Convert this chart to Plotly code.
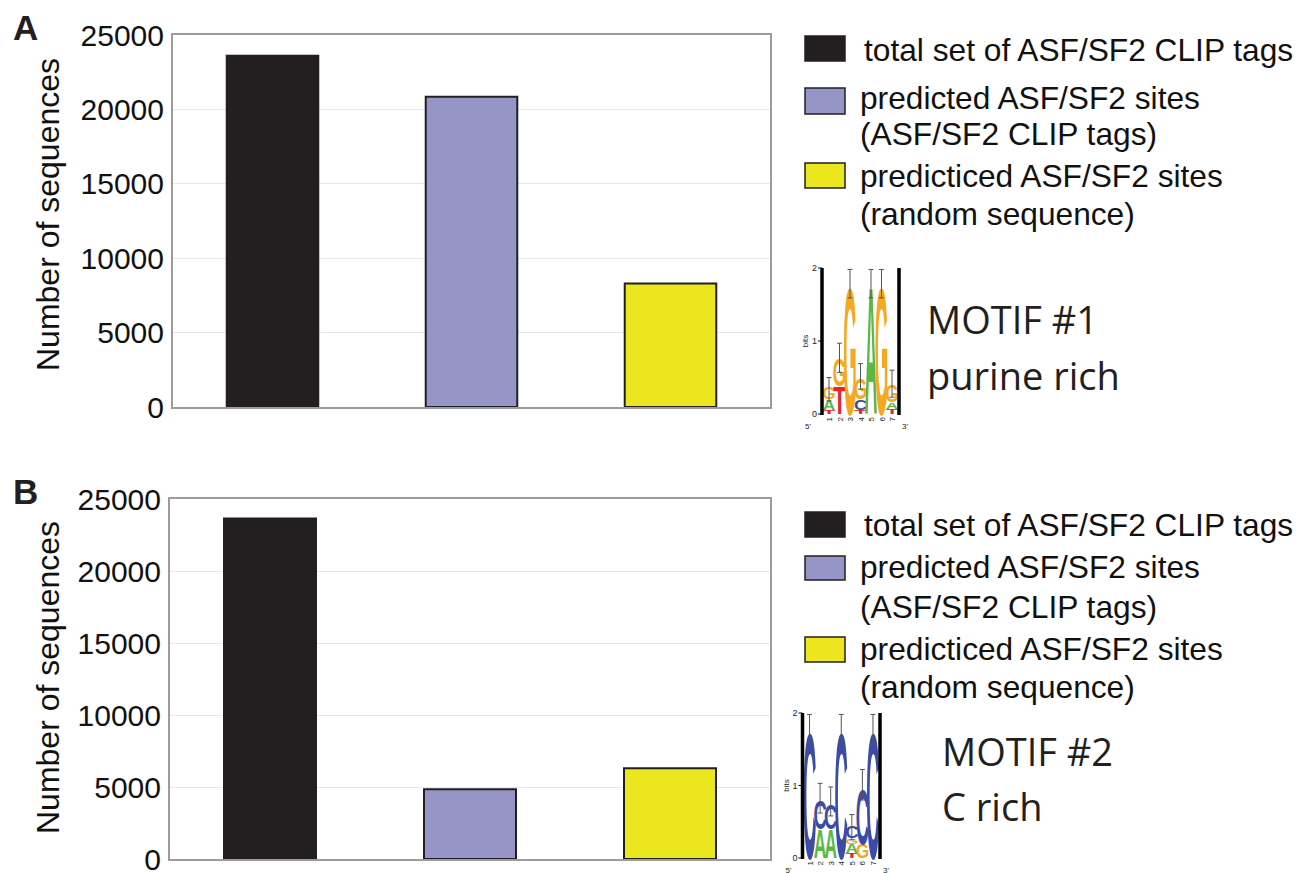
import base64
import plotly.graph_objects as go

W, H = 1304, 873
OFF = 8  # page body margin compensation

# ---------------- data ----------------
categories = ["total set of ASF/SF2 CLIP tags",
              "predicted ASF/SF2 sites (ASF/SF2 CLIP tags)",
              "predicticed ASF/SF2 sites (random sequence)"]
values_A = [23600, 20850, 8300]
values_B = [23650, 4850, 6300]
bar_colors = ["#231f20", "#9595c8", "#ebe61e"]
y_ticks = [0, 5000, 10000, 15000, 20000, 25000]
y_tick_labels = ["0", "5000", "10000", "15000", "20000", "25000"]

legend_lines = [["total set of ASF/SF2 CLIP tags"],
                ["predicted ASF/SF2 sites", "(ASF/SF2 CLIP tags)"],
                ["predicticed ASF/SF2 sites", "(random sequence)"]]

# sequence logos: (letter, bottom bits, top bits) per position, and error bars
motif1_stacks = [
    [("T", 0, 0.05), ("A", 0.05, 0.2), ("G", 0.2, 0.37)],
    [("T", 0, 0.39), ("G", 0.39, 0.78)],
    [("G", 0, 1.77)],
    [("T", 0, 0.05), ("C", 0.05, 0.2), ("G", 0.2, 0.5)],
    [("A", 0, 1.77)],
    [("G", 0, 1.77)],
    [("T", 0, 0.07), ("A", 0.07, 0.16), ("G", 0.16, 0.39)],
]
motif1_err = [(0.18, 0.5), (0.57, 0.97), (1.59, 1.98), (0.34, 0.69),
              (1.59, 1.98), (1.59, 1.98), (0.23, 0.6)]
motif2_stacks = [
    [("C", 0, 1.77)],
    [("A", 0, 0.4), ("C", 0.4, 0.8)],
    [("A", 0, 0.4), ("C", 0.4, 0.75)],
    [("C", 0, 1.77)],
    [("T", 0, 0.07), ("A", 0.07, 0.2), ("G", 0.2, 0.28), ("C", 0.28, 0.44)],
    [("G", 0, 0.2), ("C", 0.2, 0.97)],
    [("C", 0, 1.77)],
]
motif2_err = [(1.59, 1.98), (0.62, 1.03), (0.58, 0.98), (1.59, 1.98),
              (0.25, 0.6), (0.8, 1.22), (1.59, 1.98)]
motif_titles = [("MOTIF #1", "purine rich"), ("MOTIF #2", "C rich")]
letter_colors = {"A": "#5cb846", "C": "#3c4ca6", "G": "#f7a823", "T": "#e5232a"}


def px(x):
    return (x - OFF) / W


def py(y):
    return 1 - (y - OFF) / H


# ---------------- logo svg ----------------
INK = {"A": 70.0, "C": 66.0, "G": 70.0, "T": 58.0}


def logo_svg(vb, y0, ppb, xl, xr, stacks, errs):
    n = len(stacks)
    colw = (xr - xl - 3.5) / n
    x0 = xl + 1.75
    out = []
    vx, vy, vw, vh = vb
    out.append(f'<svg xmlns="http://www.w3.org/2000/svg" width="{vw}" height="{vh}" '
               f'viewBox="{vx} {vy} {vw} {vh}">')
    for i, col in enumerate(stacks):
        cx = x0 + colw * (i + 0.5)
        for (L, b, t) in col:
            yb = y0 - b * ppb
            h = (t - b) * ppb
            sy = h / 72.0
            sx = colw * 1.15 / INK[L]
            out.append(f'<text font-family="Liberation Sans, Arial, sans-serif" font-weight="bold" '
                       f'font-size="100" text-anchor="middle" fill="{letter_colors[L]}" '
                       f'transform="translate({cx:.2f},{yb:.2f}) scale({sx:.4f},{sy:.4f})">{L}</text>')
    for i, (lo, hi) in enumerate(errs):
        cx = x0 + colw * (i + 0.5)
        ylo, yhi = y0 - lo * ppb, y0 - hi * ppb
        out.append(f'<g stroke="#555" stroke-width="1" fill="none">'
                   f'<line x1="{cx:.2f}" y1="{ylo:.2f}" x2="{cx:.2f}" y2="{yhi:.2f}"/>'
                   f'<line x1="{cx-2.5:.2f}" y1="{ylo:.2f}" x2="{cx+2.5:.2f}" y2="{ylo:.2f}"/>'
                   f'<line x1="{cx-2.5:.2f}" y1="{yhi:.2f}" x2="{cx+2.5:.2f}" y2="{yhi:.2f}"/></g>')
    ytop = y0 - 2 * ppb
    out.append(f'<rect x="{xl-1.75}" y="{ytop}" width="3.5" height="{2*ppb+1}" fill="#000"/>')
    out.append(f'<rect x="{xr-1.75}" y="{ytop}" width="3.5" height="{2*ppb+1}" fill="#000"/>')
    for k in range(3):
        yy = y0 - k * ppb
        out.append(f'<line x1="{xl-4}" y1="{yy}" x2="{xl}" y2="{yy}" stroke="#000" stroke-width="1"/>')
        out.append(f'<text x="{xl-5}" y="{yy+3}" font-family="Liberation Sans, Arial" font-size="9" '
                   f'text-anchor="end" fill="#222">{k}</text>')
    out.append(f'<text font-family="Liberation Sans, Arial" font-size="8" text-anchor="middle" fill="#222" '
               f'transform="translate({xl-14},{y0-ppb}) rotate(-90)">bits</text>')
    for i in range(n):
        cx = x0 + colw * (i + 0.5)
        out.append(f'<text font-family="Liberation Sans, Arial" font-size="8" text-anchor="end" fill="#222" '
                   f'transform="translate({cx+3},{y0+3}) rotate(-90)">{i+1}</text>')
    out.append(f'<text x="{xl-17}" y="{y0+15}" font-family="Liberation Sans, Arial" font-size="8" fill="#222">5\'</text>')
    out.append(f'<text x="{xr+3}" y="{y0+15}" font-family="Liberation Sans, Arial" font-size="8" fill="#222">3\'</text>')
    out.append('</svg>')
    return "data:image/svg+xml;base64," + base64.b64encode("".join(out).encode()).decode()


# ---------------- figure ----------------
fig = go.Figure()

panels = [
    dict(vals=values_A, xd=[173, 770], yd=[35, 407], xa="x", ya="y", label="A", lab_xy=(25, 27),
         leg_sq=[(36, 61), (88, 114), (163, 188)], leg_txt=[[50], [98, 134], [175.5, 213.5]],
         ytitle_y=215, motif=(motif1_stacks, motif1_err), logo=dict(vb=(790, 258, 125, 180), y0=414, ppb=73, xl=822, xr=899),
         mt=(927, 320, 376)),
    dict(vals=values_B, xd=[170, 770], yd=[499, 859], xa="x2", ya="y2", label="B", lab_xy=(25, 491),
         leg_sq=[(512, 537), (556, 580), (637, 662)], leg_txt=[[525], [566.5, 607], [649, 686.5]],
         ytitle_y=678, motif=(motif2_stacks, motif2_err), logo=dict(vb=(770, 702, 125, 180), y0=858, ppb=72.5, xl=802.5, xr=880),
         mt=(942, 752, 807)),
]

shapes = []
annotations = []
images = []
for pi, p in enumerate(panels):
    fig.add_trace(go.Bar(x=categories, y=p["vals"], xaxis=p["xa"], yaxis=p["ya"],
                         marker=dict(color=bar_colors, line=dict(color="#231f20", width=2)),
                         width=0.46, showlegend=False, hoverinfo="y"))
    axn = "" if pi == 0 else "2"
    fig.layout["xaxis" + axn] = dict(domain=[px(p["xd"][0]), px(p["xd"][1])], anchor=p["ya"],
                                     showticklabels=False, ticks="", showgrid=False, zeroline=False,
                                     showline=True, mirror=True, linecolor="#9c9c9c", linewidth=2,
                                     range=[-0.5, 2.5], fixedrange=True, automargin=False)
    fig.layout["yaxis" + axn] = dict(domain=[py(p["yd"][1]), py(p["yd"][0])], anchor=p["xa"],
                                     range=[0, 25000], tickvals=y_ticks, ticktext=y_tick_labels,
                                     tickfont=dict(size=30, color="#111", family="Liberation Sans, Arial"),
                                     ticks="", ticklabelstandoff=1, showgrid=True, gridcolor="#e8e8e8",
                                     gridwidth=1, zeroline=False, showline=True, mirror=True,
                                     linecolor="#9c9c9c", linewidth=2, fixedrange=True, automargin=False)
    # panel letter
    annotations.append(dict(text=p["label"], x=px(p["lab_xy"][0]), y=py(p["lab_xy"][1]), xref="paper", yref="paper",
                            showarrow=False, xanchor="center", yanchor="middle",
                            font=dict(size=35, family="Liberation Sans, Arial", color="#231f20", weight="bold")))
    # y title
    annotations.append(dict(text="Number of sequences", x=px(48), y=py(p["ytitle_y"]), xref="paper", yref="paper",
                            showarrow=False, textangle=-90, xanchor="center", yanchor="middle",
                            font=dict(size=32, family="Liberation Sans, Arial", color="#111")))
    # legend
    for k, (y1, y2) in enumerate(p["leg_sq"]):
        shapes.append(dict(type="rect", xref="paper", yref="paper", x0=px(805), x1=px(845),
                           y0=py(y2), y1=py(y1), fillcolor=bar_colors[k],
                           line=dict(color="#231f20", width=1.5)))
        for li, line in enumerate(legend_lines[k]):
            xs = 862 if k == 0 else 858
            annotations.append(dict(text=line, x=px(xs), y=py(p["leg_txt"][k][li]), xref="paper", yref="paper",
                                    showarrow=False, xanchor="left", yanchor="middle",
                                    font=dict(size=31.7, family="Liberation Sans, Arial", color="#111")))
    # motif text
    t1, t2 = motif_titles[pi]
    mx, my1, my2 = p["mt"]
    for t, yy in ((t1, my1), (t2, my2)):
        annotations.append(dict(text=t, x=px(mx - 2), y=py(yy - 1), xref="paper", yref="paper",
                                showarrow=False, xanchor="left", yanchor="middle",
                                font=dict(size=38, family="Open Sans", color="#231f20")))
    # logo image
    lg = p["logo"]
    vx, vy, vw, vh = lg["vb"]
    src = logo_svg(lg["vb"], lg["y0"], lg["ppb"], lg["xl"], lg["xr"], *p["motif"])
    images.append(dict(source=src, xref="paper", yref="paper", x=px(vx), y=py(vy),
                       sizex=vw / W, sizey=vh / H, xanchor="left", yanchor="top",
                       sizing="stretch", layer="above"))

fig.update_layout(width=W, height=H, margin=dict(l=0, r=0, t=0, b=0, autoexpand=False),
                  template="none",
                  paper_bgcolor="white", plot_bgcolor="white",
                  shapes=shapes, annotations=annotations, images=images,
                  bargap=0.54)

fig.write_html("out.html")
